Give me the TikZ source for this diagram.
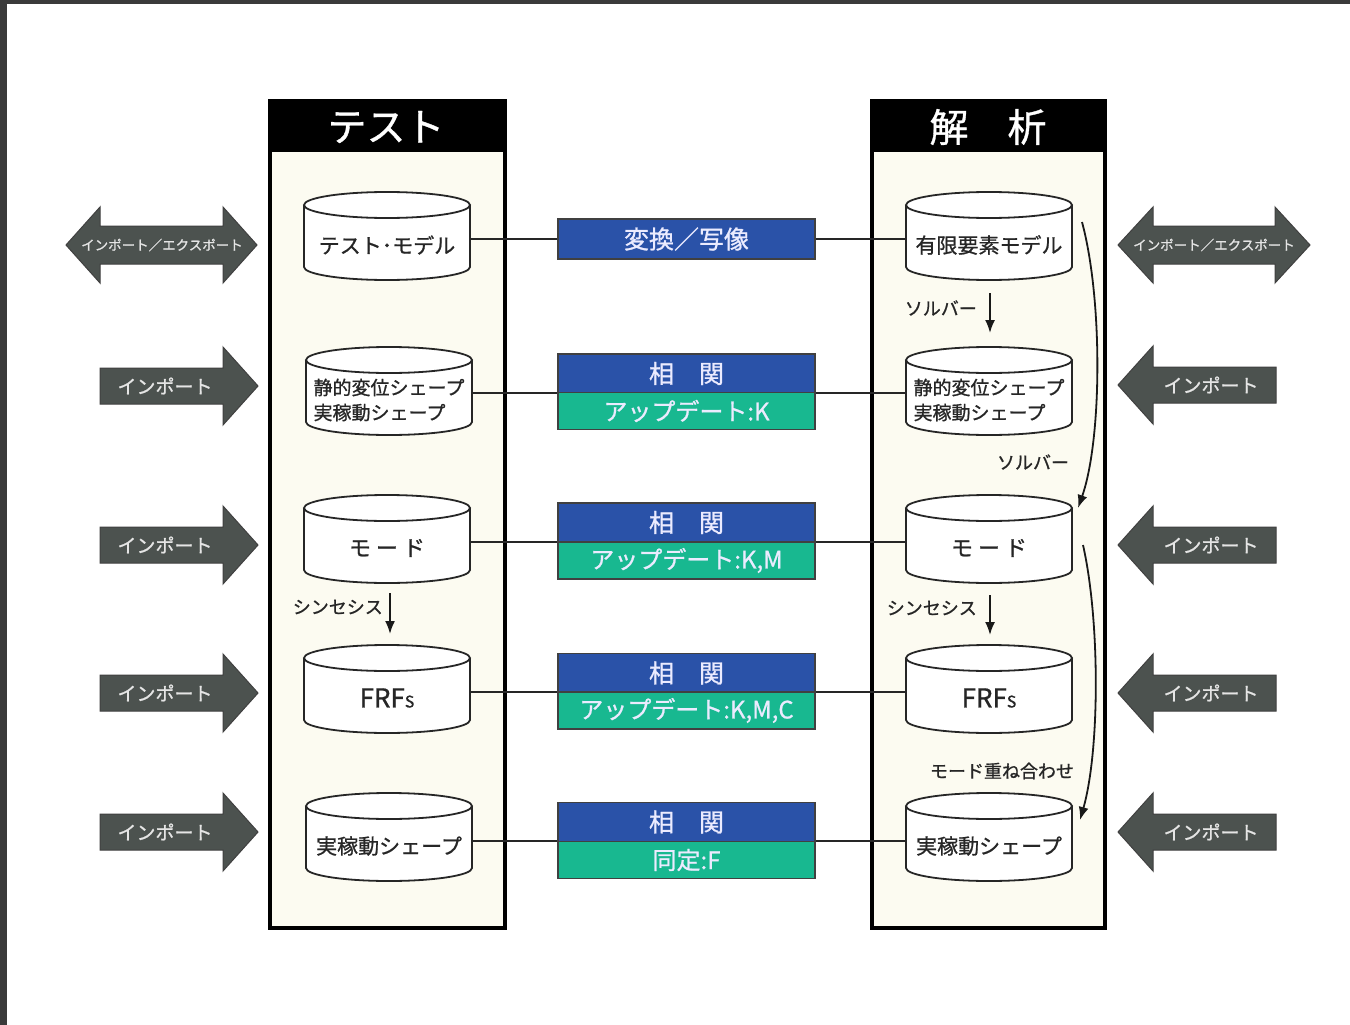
\documentclass[tikz,border=0pt]{standalone}
\usepackage{fontspec}
\setmainfont{Noto Sans CJK JP}[FakeBold=0.9]
\usetikzlibrary{arrows.meta,calc}
\pgfdeclarelayer{bglayer}
\pgfdeclarelayer{cyllayer}
\pgfsetlayers{bglayer,cyllayer,main}
\definecolor{myblue}{HTML}{2A52A8}
\definecolor{myteal}{HTML}{18B890}
\definecolor{arrgray}{HTML}{4C524F}
\definecolor{cream}{HTML}{FCFBF1}
\definecolor{edgegray}{HTML}{3A3A3A}
\newcommand\fsz[1]{\fontsize{#1pt}{#1pt}\selectfont}
\newcommand\cylshape[1]{%
  \path[cylline] let \p1=(#1.center) in
    ({\x1-83pt},{\y1+40pt}) -- ({\x1-83pt},{\y1-22pt})
    arc[start angle=180,end angle=360,x radius=83pt,y radius=13pt]
    -- ({\x1+83pt},{\y1+40pt})
    arc[start angle=0,end angle=180,x radius=83pt,y radius=13pt] -- cycle
    ({\x1},{\y1+40pt}) ellipse[x radius=83pt,y radius=13pt];
}
\newcommand\rarrow[2]{%
  \draw[imp] (100,#1-18) -- (223,#1-18) -- (223,#1-39) -- (258,#1) -- (223,#1+39) -- (223,#1+18) -- (100,#1+18) -- cycle;
  \node[imptext] (#2) at (165,#1) {インポート};}
\newcommand\larrow[2]{%
  \draw[imp] (1276,#1-18) -- (1153,#1-18) -- (1153,#1-39) -- (1118,#1) -- (1153,#1+39) -- (1153,#1+18) -- (1276,#1+18) -- cycle;
  \node[imptext] (#2) at (1211,#1) {インポート};}
\begin{document}
\begin{tikzpicture}[x=1pt,y=-1pt,
  cyltext/.style={minimum width=166pt,minimum height=30pt,inner sep=0pt,font=\fsz{21},text=black!85},
  cylline/.style={draw=black!85,line width=1.8pt,fill=white},
  conn/.style={draw=black!85,line width=1.8pt},
  boxbase/.style={draw=black!75,line width=1.2pt,minimum width=257pt,inner sep=0pt,text=white!92!blue},
  bluebox/.style={boxbase,fill=myblue,minimum height=39pt,font=\fsz{25}},
  tealbox/.style={boxbase,fill=myteal,minimum height=37pt,font=\fsz{24}},
  imp/.style={fill=arrgray,draw=black!75,line width=1pt},
  imptext/.style={inner sep=0pt,text=white!90!black,font=\fsz{19}},
  exptext/.style={inner sep=0pt,text=white!90!black,font=\fsz{13.5}},
  varr/.style={draw=black!90,line width=1.8pt,-{Latex[length=13pt,width=10pt]}},
  lbl/.style={inner sep=0pt,font=\fsz{18},text=black!85},
  title/.style={inner sep=0pt,text=white,font=\fsz{39}}]
\useasboundingbox (0,0) rectangle (1350,1025);
\begin{pgfonlayer}{bglayer}
  \fill[white] (0,0) rectangle (1350,1025);
  \fill[edgegray] (0,0) rectangle (1350,4);
  \fill[edgegray] (0,0) rectangle (7,1025);
  \fill[cream] (270,101) rectangle (505,928);
  \fill[cream] (872,101) rectangle (1105,928);
  \fill[black] (270,101) rectangle (505,152);
  \fill[black] (872,101) rectangle (1105,152);
  \draw[line width=3.5pt] (270,101) rectangle (505,928);
  \draw[line width=3.5pt] (872,101) rectangle (1105,928);
\end{pgfonlayer}
% titles
\node[title] (tt) at (386,127) {テスト};
\node[title] (ta) at (988,127) {解　析};
% cylinders (test)
\node[cyltext] (t1) at (387,245) {テスト･モデル};
\node[cyltext,align=left,font={\fontsize{19pt}{25pt}\selectfont}] (t2) at (389,400) {静的変位シェープ\\実稼動シェープ};
\node[cyltext,font=\fsz{22}] (t3) at (387,548) {モ\hspace{5pt}ー\hspace{5pt}ド};
\node[cyltext,font=\fsz{26}] (t4) at (387,698) {FRF{\fsz{16}S}};
\node[cyltext] (t5) at (389,846) {実稼動シェープ};
% cylinders (analysis)
\node[cyltext] (f1) at (989,245) {有限要素モデル};
\node[cyltext,align=left,font={\fontsize{19pt}{25pt}\selectfont}] (f2) at (989,400) {静的変位シェープ\\実稼動シェープ};
\node[cyltext,font=\fsz{22}] (f3) at (989,548) {モ\hspace{5pt}ー\hspace{5pt}ド};
\node[cyltext,font=\fsz{26}] (f4) at (989,698) {FRF{\fsz{16}S}};
\node[cyltext] (f5) at (989,846) {実稼動シェープ};
\begin{pgfonlayer}{cyllayer}
  \cylshape{t1}\cylshape{t2}\cylshape{t3}\cylshape{t4}\cylshape{t5}
  \cylshape{f1}\cylshape{f2}\cylshape{f3}\cylshape{f4}\cylshape{f5}
\end{pgfonlayer}
% center boxes
\node[bluebox,minimum height=40pt] (b1) at (686.5,239) {変換／写像};
\node[bluebox] (b2) at (686.5,373.5) {相　関};
\node[tealbox] (u2) at (686.5,411) {アップデート:K};
\node[bluebox] (b3) at (686.5,522.5) {相　関};
\node[tealbox] (u3) at (686.5,560.5) {アップデート:K,M};
\node[bluebox] (b4) at (686.5,673) {相　関};
\node[tealbox] (u4) at (686.5,710.5) {アップデート:K,M,C};
\node[bluebox] (b5) at (686.5,822) {相　関};
\node[tealbox] (u5) at (686.5,860) {同定:F};
% connectors
\begin{pgfonlayer}{bglayer}
  \draw[conn] ([yshift=6pt]t1.east) -- ([yshift=6pt]f1.west);
  \draw[conn] ([yshift=7pt]t2.east) -- ([yshift=7pt]f2.west);
  \draw[conn] ([yshift=6pt]t3.east) -- ([yshift=6pt]f3.west);
  \draw[conn] ([yshift=6pt]t4.east) -- ([yshift=6pt]f4.west);
  \draw[conn] ([yshift=5pt]t5.east) -- ([yshift=5pt]f5.west);
\end{pgfonlayer}
% internal arrows
\draw[varr] ([xshift=1pt,yshift=-48pt]f1.center) -- ([xshift=1pt,yshift=67pt]f2.center);
\draw[varr] ([xshift=3pt,yshift=-45pt]t3.center) -- ([xshift=3pt,yshift=64pt]t4.center);
\draw[varr] ([xshift=1pt,yshift=-47pt]f3.center) -- ([xshift=1pt,yshift=63pt]f4.center);
\draw[varr] ([xshift=93pt,yshift=23pt]f1.center) .. controls (1103,300) and (1102,440) .. ([xshift=89pt,yshift=40pt]f3.center);
\draw[varr] ([xshift=94pt,yshift=3pt]f3.center) .. controls (1100,620) and (1100,750) .. ([xshift=91pt,yshift=26pt]f5.center);
% labels
\node[lbl,anchor=east] (s1) at (977,308) {ソルバー};
\node[lbl] (s2) at (1033,462) {ソルバー};
\node[lbl,anchor=east] (sy1) at (383,607) {シンセシス};
\node[lbl,anchor=east] (sy2) at (977,608) {シンセシス};
\node[lbl] (mo) at (1002,771) {モード重ね合わせ};
% side arrows
\draw[imp] (66,245) -- (100,207) -- (100,226) -- (223,226) -- (223,207) -- (257,245) -- (223,283) -- (223,264) -- (100,264) -- (100,283) -- cycle;
\node[exptext] (ex1) at (162,245) {インポート／エクスポート};
\draw[imp] (1118,245) -- (1153,207) -- (1153,226) -- (1275,226) -- (1275,207) -- (1310,245) -- (1275,283) -- (1275,264) -- (1153,264) -- (1153,283) -- cycle;
\node[exptext] (ex2) at (1214,245) {インポート／エクスポート};
\rarrow{386}{il2}
\rarrow{545}{il3}
\rarrow{693}{il4}
\rarrow{832}{il5}
\larrow{385}{ir2}
\larrow{545}{ir3}
\larrow{693}{ir4}
\larrow{832}{ir5}
\end{tikzpicture}
\end{document}
